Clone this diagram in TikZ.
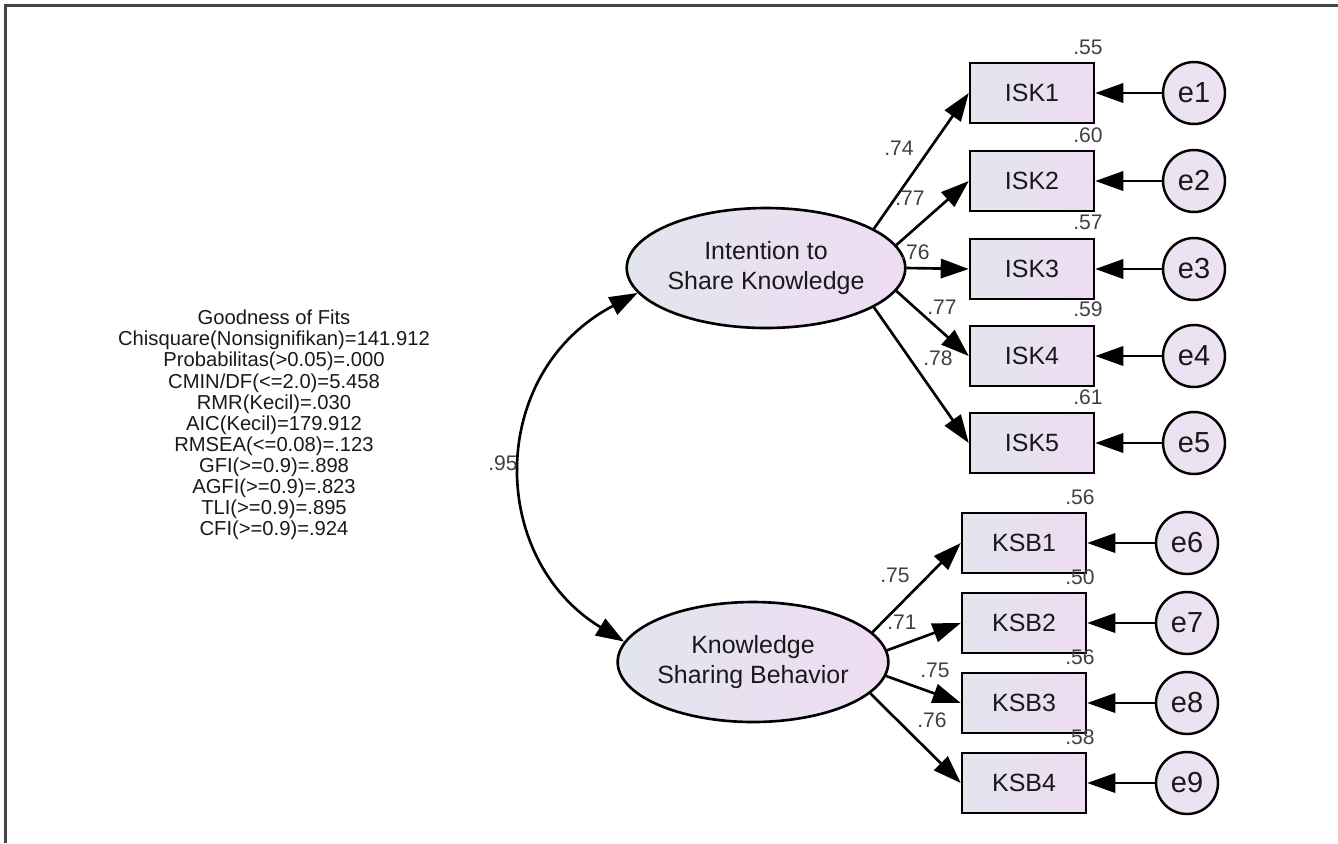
\documentclass[tikz,border=0pt]{standalone}
\usepackage{fontspec}
\setmainfont{Liberation Sans}
\usetikzlibrary{arrows.meta,shapes.geometric}

\definecolor{fillL}{HTML}{E2E5EE}
\definecolor{fillR}{HTML}{EFDCF3}
\definecolor{errfill}{HTML}{EEE2F2}
\definecolor{frame}{HTML}{444444}

\begin{document}
\begin{tikzpicture}[x=0.02cm, y=-0.02cm, >={Triangle[length=16pt, width=11pt]}, line width=1.5pt,
    latent/.style={ellipse, draw, line width=1.5pt, left color=fillL, right color=fillR,
        minimum width=4.94cm, minimum height=2.4cm, inner sep=0pt, align=center,
        text=black!90, font=\fontsize{14.2}{17}\selectfont},
    indicator/.style={rectangle, draw, line width=1.4pt, left color=fillL, right color=fillR,
        minimum width=2.48cm, minimum height=1.2cm, inner sep=0pt,
        text=black!90, font=\fontsize{14.2}{17}\selectfont},
    err/.style={circle, draw, line width=1.4pt, left color=fillL!40!errfill, right color=errfill,
        minimum size=1.24cm, inner sep=0pt, text=black!90, font=\fontsize{16.5}{18}\selectfont},
    est/.style={inner sep=0pt, text=black!75, font=\fontsize{12}{14}\selectfont}]
    % Page and frame
    \useasboundingbox (0, 0) rectangle (1338, 843);
    \draw[line width=1.3pt, frame] (5.5, 843) -- (5.5, 5.5) -- (1338, 5.5);

    % Fit indices
    \node[align=center, text=black!90, font=\fontsize{11.5}{12}\selectfont] (fit) at (274, 425)
        {Goodness of Fits\\ Chisquare(Nonsignifikan)=141.912\\ Probabilitas(>0.05)=.000\\
         CMIN/DF(<=2.0)=5.458\\ RMR(Kecil)=.030\\ AIC(Kecil)=179.912\\ RMSEA(<=0.08)=.123\\
         GFI(>=0.9)=.898\\ AGFI(>=0.9)=.823\\ TLI(>=0.9)=.895\\ CFI(>=0.9)=.924};

    % Latent variables
    \node[latent] (isk) at (766, 268) {Intention to\\ Share Knowledge};
    \node[latent] (ksb) at (753, 662) {Knowledge\\ Sharing Behavior};

    % Indicators of ISK
    \node[indicator] (isk1) at (1032, 93) {ISK1};
    \node[indicator] (isk2) at (1032, 181) {ISK2};
    \node[indicator] (isk3) at (1032, 269) {ISK3};
    \node[indicator] (isk4) at (1032, 356) {ISK4};
    \node[indicator] (isk5) at (1032, 443) {ISK5};

    % Indicators of KSB
    \node[indicator] (ksb1) at (1024, 543) {KSB1};
    \node[indicator] (ksb2) at (1024, 623) {KSB2};
    \node[indicator] (ksb3) at (1024, 703) {KSB3};
    \node[indicator] (ksb4) at (1024, 783) {KSB4};

    % Error terms
    \node[err] (e1) at (1194, 93) {e1};
    \node[err] (e2) at (1194, 181) {e2};
    \node[err] (e3) at (1194, 269) {e3};
    \node[err] (e4) at (1194, 356) {e4};
    \node[err] (e5) at (1194, 443) {e5};
    \node[err] (e6) at (1187, 543) {e6};
    \node[err] (e7) at (1187, 623) {e7};
    \node[err] (e8) at (1187, 703) {e8};
    \node[err] (e9) at (1187, 783) {e9};

    % Loadings
    \draw[->] (isk.20) -- (isk1.west);
    \draw[->] (isk.10) -- (isk2.west);
    \draw[->] (isk.0) -- (isk3.west);
    \draw[->] (isk.-10) -- (isk4.west);
    \draw[->] (isk.-20) -- (isk5.west);
    \draw[->] (ksb.14) -- (ksb1.west);
    \draw[->] (ksb.5) -- (ksb2.west);
    \draw[->] (ksb.-6) -- (ksb3.west);
    \draw[->] (ksb.-15) -- (ksb4.west);

    % Errors into indicators
    \draw[->] (e1) -- (isk1);
    \draw[->] (e2) -- (isk2);
    \draw[->] (e3) -- (isk3);
    \draw[->] (e4) -- (isk4);
    \draw[->] (e5) -- (isk5);
    \draw[->] (e6) -- (ksb1);
    \draw[->] (e7) -- (ksb2);
    \draw[->] (e8) -- (ksb3);
    \draw[->] (e9) -- (ksb4);

    % Correlation
    \draw[<->] (isk.191) .. controls (487, 372) and (487, 558) .. (ksb.171);
    \node[est] (r) at (503, 463) {.95};

    % Loading estimates
    \node[est] (l1) at (899, 148) {.74};
    \node[est] (l2) at (910, 198) {.77};
    \node[est] (l3) at (915, 252) {.76};
    \node[est] (l4) at (942, 307) {.77};
    \node[est] (l5) at (938, 358) {.78};
    \node[est] (l6) at (895, 575) {.75};
    \node[est] (l7) at (902, 622) {.71};
    \node[est] (l8) at (935, 670) {.75};
    \node[est] (l9) at (932, 720) {.76};

    % Squared multiple correlations
    \node[est] (s1) at (1088, 47) {.55};
    \node[est] (s2) at (1088, 135) {.60};
    \node[est] (s3) at (1088, 222) {.57};
    \node[est] (s4) at (1088, 309) {.59};
    \node[est] (s5) at (1088, 397) {.61};
    \node[est] (s6) at (1080, 497) {.56};
    \node[est] (s7) at (1080, 577) {.50};
    \node[est] (s8) at (1080, 657) {.56};
    \node[est] (s9) at (1080, 737) {.58};
\end{tikzpicture}
\end{document}
